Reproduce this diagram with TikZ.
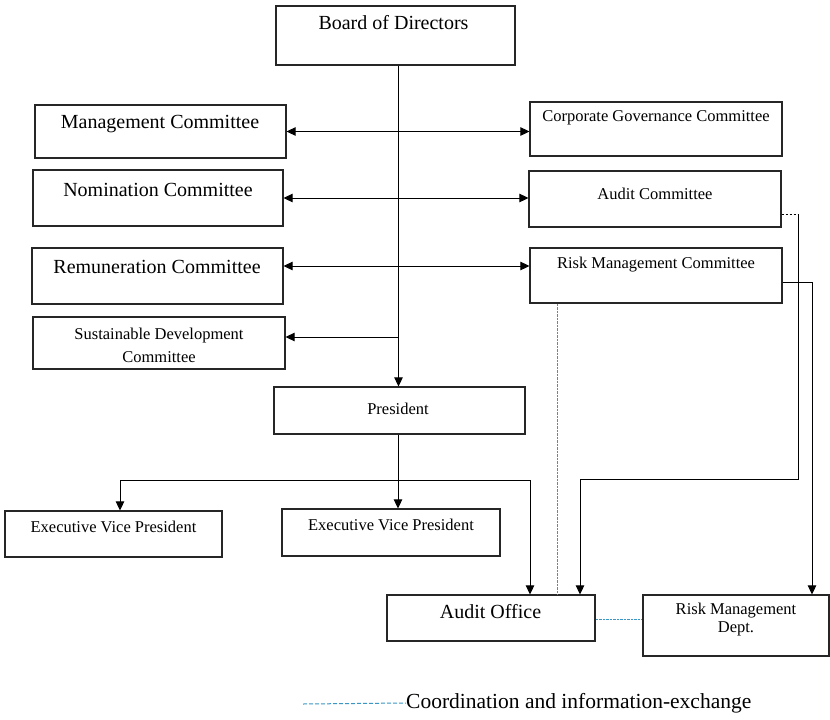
\documentclass[tikz,border=0pt]{standalone}
\usepackage{fontspec}
\setmainfont{Liberation Serif}
\usetikzlibrary{arrows.meta,calc}
\definecolor{coordblue}{RGB}{60,150,195}
\begin{document}
\begin{tikzpicture}[x=1pt,y=-1pt,
 box/.style={draw=black!85,line width=1.2pt,inner sep=0pt},
 txt/.style={inner sep=0pt,align=center},
 tbig/.style={txt,font=\fontsize{20}{24}\selectfont},
 tsmall/.style={txt,font=\fontsize{16.5}{23}\selectfont},
 conn/.style={line width=1pt,draw=black},
 arr/.style={conn,-{Triangle[length=9pt,width=8.5pt]}},
 darr/.style={conn,{Triangle[length=9pt,width=8.5pt]}-{Triangle[length=9pt,width=8.5pt]}},
 coordline/.style={draw=coordblue,line width=1pt,dash pattern=on 2.5pt off 1pt}]
\useasboundingbox (0,0) rectangle (830,720);
\fill[white] (0,0) rectangle (830,720);

% boxes
\node[box,minimum width=239pt,minimum height=59pt] (bod) at (395.5,35.5) {};
\node[box,minimum width=251pt,minimum height=53pt] (mc) at (160.5,131.5) {};
\node[box,minimum width=250pt,minimum height=56pt] (nc) at (158,198) {};
\node[box,minimum width=251pt,minimum height=56pt] (rc) at (157.5,276) {};
\node[box,minimum width=252pt,minimum height=52pt] (sdc) at (159,343) {};
\node[box,minimum width=252pt,minimum height=54pt] (cgc) at (656,129) {};
\node[box,minimum width=252pt,minimum height=56pt] (ac) at (655,199) {};
\node[box,minimum width=252pt,minimum height=55pt] (rmc) at (656,275.5) {};
\node[box,minimum width=251pt,minimum height=47pt] (pres) at (399.5,410.5) {};
\node[box,minimum width=217pt,minimum height=46pt] (evpa) at (113.5,534) {};
\node[box,minimum width=218pt,minimum height=47pt] (evpb) at (391,532.5) {};
\node[box,minimum width=208pt,minimum height=46pt] (ao) at (491,618) {};
\node[box,minimum width=186pt,minimum height=61pt] (rmd) at (736,625.5) {};

% texts
\node[tbig] (bodt) at (393.5,23) {Board of Directors};
\node[tbig] (mct) at (160,124) {Management Committee};
\node[tbig] (nct) at (158,190) {Nomination Committee};
\node[tbig] (rct) at (157,267) {Remuneration Committee};
\node[tsmall] (sdct) at (159,345.5) {Sustainable Development\\Committee};
\node[tsmall] (cgct) at (656,118) {Corporate Governance Committee};
\node[tsmall] (act) at (655,194) {Audit Committee};
\node[tsmall] (rmct) at (656,265) {Risk Management Committee};
\node[tsmall] (prest) at (398,409) {President};
\node[tsmall] (evpat) at (113.5,527) {Executive Vice President};
\node[tsmall] (evpbt) at (391,525) {Executive Vice President};
\node[tbig] (aot) at (490.5,612) {Audit Office};
\node[txt,font=\fontsize{16.5}{18}\selectfont] (rmdt) at (736,620) {Risk Management\\Dept.};

% coordinates
\coordinate (cl) at ([xshift=-1pt]pres.north);
\coordinate (cs) at ([xshift=-1.5pt]pres.south);
\coordinate (br) at (0,480);
\coordinate (q1) at (798,214);
\coordinate (q2) at (0,479);
\coordinate (q3) at (812,282);
\coordinate (q4) at (557,0);
\coordinate (sdin) at ([yshift=6pt]sdc.east);
\coordinate (rcout) at ([yshift=10pt]rc.east);
\coordinate (evpin) at ([xshift=6.5pt]evpa.north);
\coordinate (aoa) at ([xshift=39pt]ao.north);
\coordinate (aob) at ([xshift=89pt]ao.north);
\coordinate (aoc) at ([yshift=-1pt]ao.east);
\coordinate (lg) at (303,704);

% connectors
\draw[arr] (cl |- bod.south) -- (cl);
\draw[darr] (mc.east) -- (mc.east -| cgc.west);
\draw[darr] (nc.east) -- (nc.east -| ac.west);
\draw[darr] (rcout) -- (rcout -| rmc.west);
\draw[arr] (sdin -| cl) -- (sdin);
\draw[arr] (cs) -- (cs |- evpb.north);
\draw[darr] (evpin) |- (aoa |- br) -- (aoa);
\draw[conn,dash pattern=on 2.5pt off 1.5pt] (ac.east |- q1) -- (q1);
\draw[arr] (q1) |- (aob |- q2) -- (aob);
\draw[arr] (rmc.east |- q3) -- (q3) -- (q3 |- rmd.north);

% coordination lines
\draw[coordline] (rmc.south -| q4) -- (ao.north -| q4);
\draw[coordline] (aoc) -- (aoc -| rmd.west);

% legend
\node[txt,anchor=west,font=\fontsize{21.5}{24}\selectfont] (leg) at (406,703) {Coordination and information-exchange};
\draw[coordline,dash pattern=on 4pt off 2pt] (lg) -- (leg.west);
\end{tikzpicture}
\end{document}
